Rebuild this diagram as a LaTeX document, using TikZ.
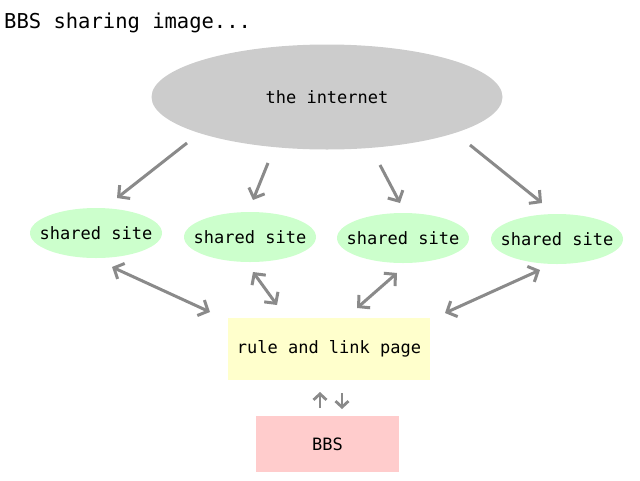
\documentclass[tikz,border=0pt]{standalone}
\usepackage{fontspec}
\setmainfont{DejaVu Sans Mono}
\usetikzlibrary{arrows.meta,shapes.geometric}
\definecolor{netgray}{HTML}{CCCCCC}
\definecolor{sitegreen}{HTML}{CCFFCC}
\definecolor{ruleyellow}{HTML}{FFFFCC}
\definecolor{bbspink}{HTML}{FFCCCC}
\definecolor{arrgray}{HTML}{8A8A8A}
\tikzset{
  lbl/.style={font=\fontsize{17}{20}\selectfont},
  site/.style={ellipse,fill=sitegreen,minimum width=132pt,minimum height=50pt,inner sep=0pt,
    label={[lbl]center:shared site}},
  flow/.style={draw=arrgray,line width=3pt,-{Straight Barb[length=8pt,width=17pt]}},
  both/.style={draw=arrgray,line width=3pt,{Straight Barb[length=8pt,width=17pt]}-{Straight Barb[length=8pt,width=17pt]}},
  small/.style={draw=arrgray,line width=2.8pt,-{Straight Barb[length=6pt,width=13pt]}},
}
\begin{document}
\begin{tikzpicture}[x=1pt,y=-1pt]
\useasboundingbox (0,0) rectangle (640,480);
\node[anchor=base west,inner sep=0pt,font=\fontsize{20.5}{24}\selectfont] (title) at (4,28) {BBS sharing image...};
\node[ellipse,fill=netgray,minimum width=351pt,minimum height=105pt,inner sep=0pt,lbl] (net) at (327,97) {the internet};
\node[site] (s1) at (96,233) {};
\node[site] (s2) at (250,237) {};
\node[site] (s3) at (403,238) {};
\node[site] (s4) at (557,239) {};
\node[fill=ruleyellow,minimum width=202pt,minimum height=62pt,inner sep=0pt,lbl] (rule) at (329,349) {rule and link page};
\node[fill=bbspink,minimum width=143pt,minimum height=56pt,inner sep=0pt,lbl] (bbs) at (327.5,444) {BBS};
% arrow end points
\coordinate (n1) at (187,143); \coordinate (t1) at (117,198);
\coordinate (n2) at (268,163); \coordinate (t2) at (253,200);
\coordinate (n3) at (380,165); \coordinate (t3) at (400,203);
\coordinate (n4) at (470,145); \coordinate (t4) at (542,203);
\coordinate (a1) at (112,267); \coordinate (b1) at (210,312);
\coordinate (a2) at (253,272); \coordinate (b2) at (277,305);
\coordinate (a3) at (397,273); \coordinate (b3) at (357,308);
\coordinate (a4) at (540,270); \coordinate (b4) at (445,313);
\coordinate (u1) at (320,408); \coordinate (u2) at (320,392);
\coordinate (d1) at (342,393); \coordinate (d2) at (342,409);
\draw[flow] (n1) -- (t1);
\draw[flow] (n2) -- (t2);
\draw[flow] (n3) -- (t3);
\draw[flow] (n4) -- (t4);
\draw[both] (a1) -- (b1);
\draw[both] (a2) -- (b2);
\draw[both] (a3) -- (b3);
\draw[both] (a4) -- (b4);
\draw[small] (u1) -- (u2);
\draw[small] (d1) -- (d2);
\end{tikzpicture}
\end{document}
